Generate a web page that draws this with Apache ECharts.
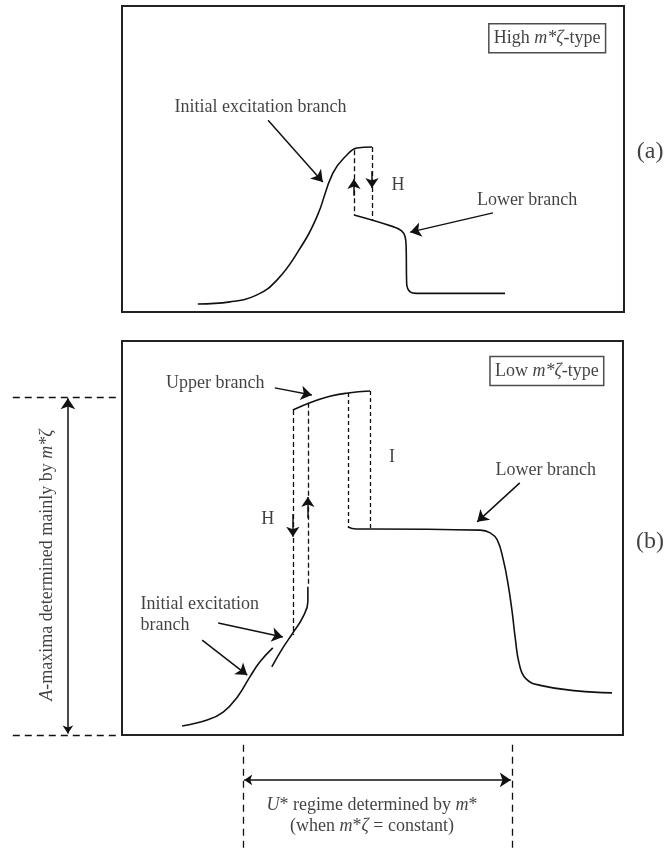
<!DOCTYPE html>
<html lang="en">
<head>
<meta charset="UTF-8">
<title>Branches of the A-maxima</title>
<style>
    html, body { margin: 0; padding: 0; background: #fff; }
    #chart { width: 671px; height: 848px; }
</style>
</head>
<body>
<div id="chart"></div>
<script src="https://cdn.jsdelivr.net/npm/echarts@6/dist/echarts.min.js"></script>
<script>
// both panels use 0..100 units inside their frame, x = U*, y = A

// (a) high m*zeta type
var aInitial = [[15.1,2.6],[21.5,3.3],[26.9,5.6],[30.9,10.5],[34.9,19.3],[38.8,31.0],[42.0,45.4],[44.8,51.3],[46.8,53.6],[49.8,53.9]];
var aLower = [[46.2,31.7],[54.0,27.9],[55.7,26.5],[56.4,24.6],[56.6,21.3],[56.7,9.5],[57.4,6.6],[58.7,6.1],[76.3,6.1]];
var aHysteresis = [
    [[46.2,52.9],[46.2,31.7]],
    [[49.8,53.9],[49.8,29.9]]
];
var aJumps = [
    [[46.2,38.0],[46.2,43.5]],
    [[49.8,46.0],[49.8,40.5]]
];
var aPointers = [
    [[29.1,62.7],[40.0,42.5]],
    [[73.9,32.4],[57.4,26.1]]
];
var aNotes = [
    {t: 'Initial excitation branch', x: 27.6, y: 67.0},
    {t: 'H', x: 55.0, y: 41.5},
    {t: 'Lower branch', x: 80.7, y: 36.6}
];
var aTag = [{t: 'High {i|m*ζ}-type', x: 84.7, y: 89.5}];
var aMark = [{t: '(a)', x: 105.2, y: 52.3}];

// (b) low m*zeta type
var bInitialLow = [[12.0,2.3],[17.0,3.8],[20.2,5.8],[23.0,9.6],[25.5,14.7],[27.5,18.5],[30.1,22.1]];
var bInitialHigh = [[29.9,17.3],[32.1,22.1],[34.1,25.9],[36.1,29.9],[37.1,33.8],[37.1,37.6]];
var bUpper = [[34.1,82.5],[37.9,84.5],[41.5,86.0],[45.1,86.8],[49.5,87.3]];
var bLower = [[45.1,52.8],[46.7,52.3],[49.5,52.3],[71.5,52.0],[73.5,51.3],[74.9,49.5],[76.1,44.5],[77.1,38.0],[77.9,31.0],[78.5,24.5],[79.3,18.0],[80.6,14.3],[83.5,12.6],[90.8,11.2],[97.8,10.7]];
var bHysteresisH = [
    [[34.1,82.5],[34.1,25.4]],
    [[37.1,84.3],[37.1,37.6]]
];
var bHysteresisI = [
    [[45.1,86.8],[45.1,52.8]],
    [[49.5,87.3],[49.5,52.3]]
];
var bGuides = [
    [[-21.8,85.8],[-0.8,85.8]],
    [[-21.8,0],[-1.2,0]],
    [[24.2,-2.5],[24.2,-28.7]],
    [[77.8,-2.5],[77.8,-28.7]]
];
var bSpans = [
    [[-10.8,0.4],[-10.8,85.5]],
    [[24.4,-11.4],[77.6,-11.4]]
];
var bJumps = [
    [[34.1,56.0],[34.1,50.3]],
    [[37.1,55.0],[37.1,60.4]]
];
var bPointers = [
    [[30.5,88.1],[37.9,86.3]],
    [[79.4,64.0],[70.9,54.1]],
    [[19.2,28.4],[32.1,24.9]],
    [[16.0,24.1],[25.0,15.2]]
];
var bNotes = [
    {t: 'Upper branch', x: 18.6, y: 89.3},
    {t: 'I', x: 53.9, y: 70.6},
    {t: 'H', x: 29.1, y: 54.8},
    {t: 'Lower branch', x: 84.6, y: 67.3},
    {t: '{i|U}* regime determined by {i|m}*\n(when {i|m}*{i|ζ} = constant)', x: 49.9, y: -20.4}
];
var bNotesLeft = [{t: 'Initial excitation\nbranch', x: 3.6, y: 30.5}];
var bSide = [{t: '{i|A}-maxima determined mainly by {i|m*ζ}', x: -15.0, y: 43.1}];
var bTag = [{t: 'Low {i|m*ζ}-type', x: 84.8, y: 92.4}];
var bMark = [{t: '(b)', x: 105.4, y: 49.0}];

var FONT = 'Liberation Serif';
var INK = '#111';
var RICH = {
    i: {fontFamily: FONT, fontStyle: 'italic', fontSize: 18, color: INK, lineHeight: 21}
};

function path(data, g) {
    return {
        type: 'line', xAxisIndex: g, yAxisIndex: g, data: data,
        showSymbol: false, symbol: 'none', clip: false, silent: true,
        smooth: 0.45,
        lineStyle: {color: INK, width: 1.6}
    };
}

function arrows(list, g, heads, size, dash) {
    return {
        type: 'lines', coordinateSystem: 'cartesian2d', xAxisIndex: g, yAxisIndex: g,
        clip: false, silent: true, symbol: heads, symbolSize: size,
        lineStyle: {color: INK, width: dash ? 1.3 : 1.5, opacity: 1, curveness: 0, type: dash || 'solid'},
        data: list.map(function (c) { return {coords: c}; })
    };
}

function dashes(list, g, dash) {
    return arrows(list, g, ['none', 'none'], 0, dash);
}

function notes(list, g, extra) {
    var label = {
        show: true, position: 'inside', color: INK, fontFamily: FONT, fontSize: 18,
        lineHeight: 21, rich: RICH,
        formatter: function (p) { return p.name; }
    };
    for (var k in extra) label[k] = extra[k];
    return {
        type: 'scatter', xAxisIndex: g, yAxisIndex: g, clip: false, silent: true,
        symbol: 'circle', symbolSize: 1, itemStyle: {color: 'rgba(0,0,0,0)'},
        data: list.map(function (n) { return {name: n.t, value: [n.x, n.y]}; }),
        label: label
    };
}

var frame = {show: true, borderColor: '#222', borderWidth: 2, backgroundColor: 'transparent', outerBoundsMode: 'none'};
var tagStyle = {borderColor: '#222', borderWidth: 1.5, padding: [4, 5, 4, 5]};

var series = [
    path(aInitial, 0), path(aLower, 0),
    dashes(aHysteresis, 0, [5, 3]),
    arrows(aPointers, 0, ['none', 'arrow'], [8, 11]),
    arrows(aJumps, 0, ['none', 'arrow'], [7, 10]),
    notes(aNotes, 0, {}), notes(aTag, 0, tagStyle), notes(aMark, 0, {fontSize: 24}),

    path(bInitialLow, 1), path(bInitialHigh, 1), path(bUpper, 1), path(bLower, 1),
    dashes(bHysteresisH, 1, [5, 3]),
    dashes(bHysteresisI, 1, [4, 3]),
    dashes(bGuides, 1, [7, 5]),
    arrows(bPointers, 1, ['none', 'arrow'], [8, 11]),
    arrows(bJumps, 1, ['none', 'arrow'], [7, 10]),
    arrows(bSpans, 1, ['arrow', 'arrow'], [8, 11]),
    notes(bNotes, 1, {}), notes(bNotesLeft, 1, {position: 'right', distance: 0, align: 'left'}),
    notes(bSide, 1, {rotate: 90}), notes(bTag, 1, tagStyle), notes(bMark, 1, {fontSize: 24})
];

var chart = echarts.init(document.getElementById('chart'));
chart.setOption({
    backgroundColor: '#fff',
    animation: false,
    grid: [
        Object.assign({left: 122, top: 6, width: 502, height: 306}, frame),
        Object.assign({left: 122, top: 341, width: 501, height: 394}, frame)
    ],
    xAxis: [
        {type: 'value', gridIndex: 0, min: 0, max: 100, show: false},
        {type: 'value', gridIndex: 1, min: 0, max: 100, show: false}
    ],
    yAxis: [
        {type: 'value', gridIndex: 0, min: 0, max: 100, show: false},
        {type: 'value', gridIndex: 1, min: 0, max: 100, show: false}
    ],
    series: series
});
</script>
</body>
</html>
